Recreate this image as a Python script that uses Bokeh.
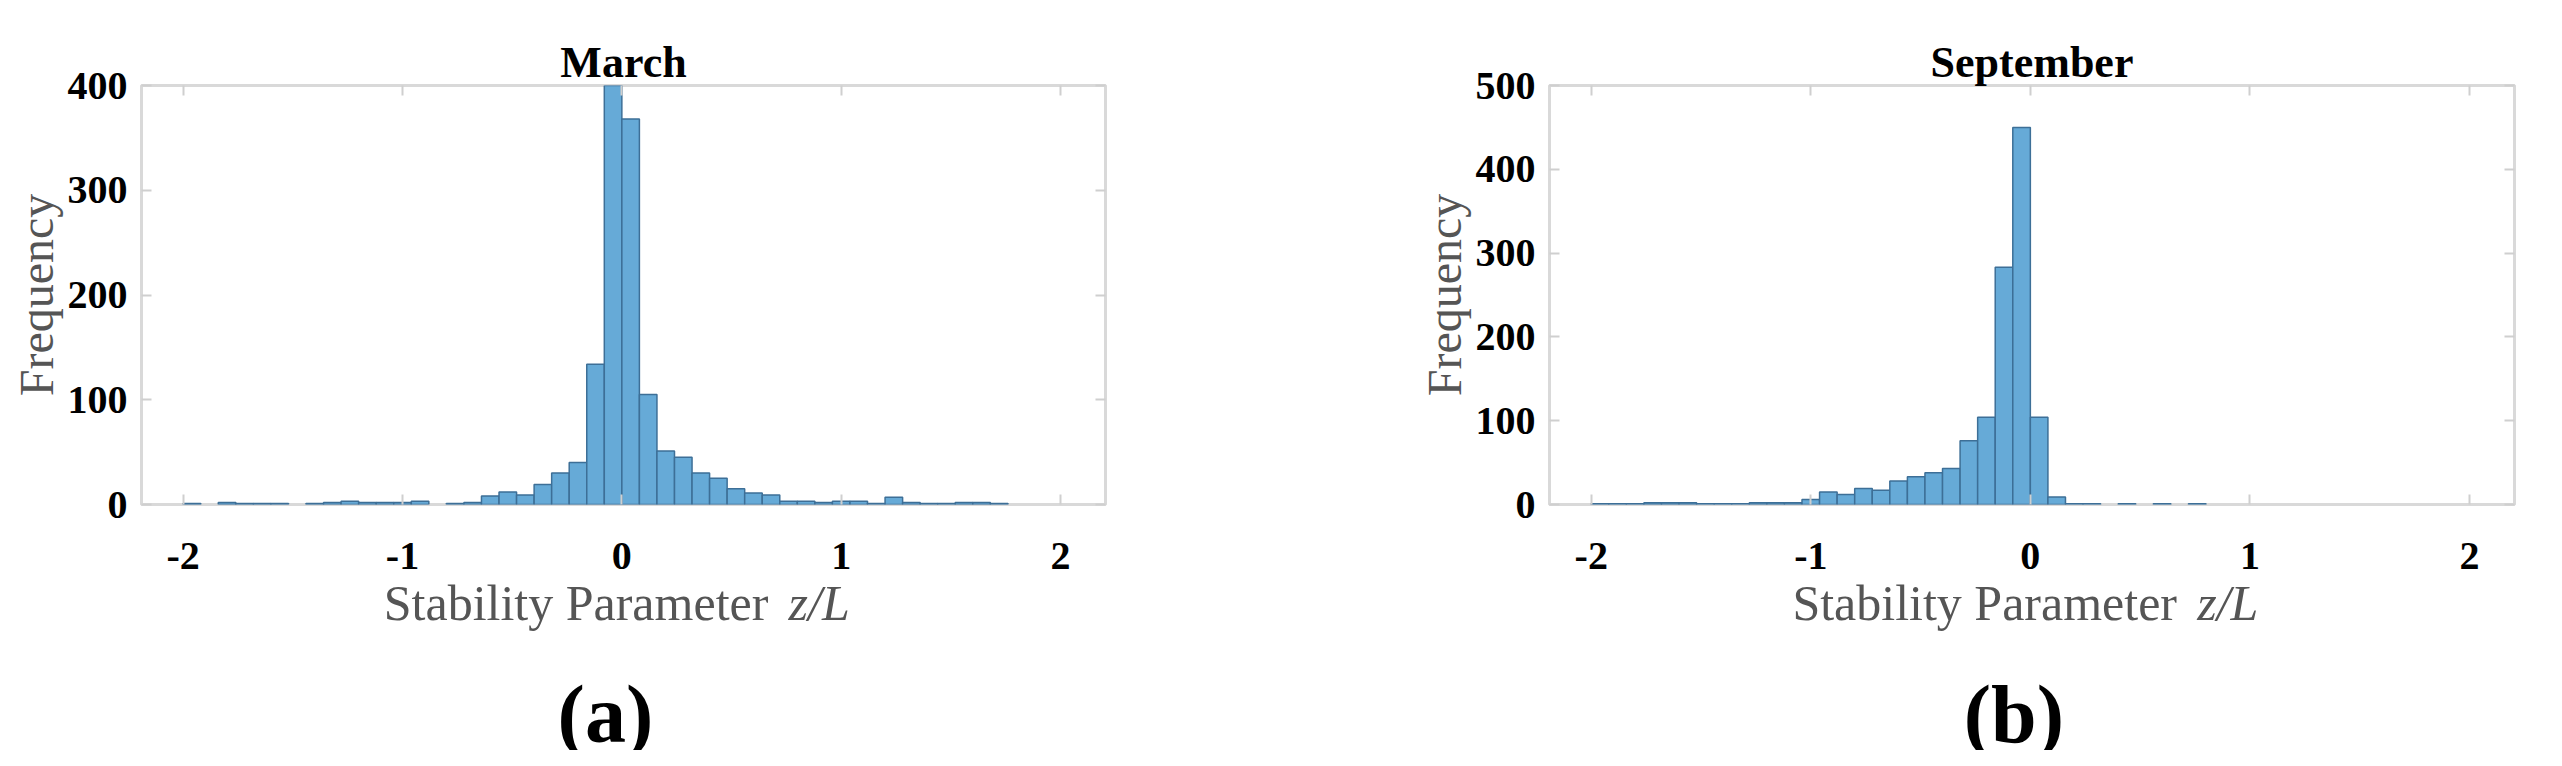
import numpy as np
from bokeh.plotting import figure
from bokeh.models import Range1d, FixedTicker, LinearAxis
from bokeh.layouts import row, column
from bokeh.core.properties import value
from bokeh.embed import file_html
from bokeh.resources import INLINE

# Histogram bins (MATLAB BinEdges): -2 .. 2, width 0.08
BIN_START = -2.0
BIN_WIDTH = 0.08
N_BINS = 50

march_counts = [1, 0, 2, 1, 1, 1, 0, 1, 2, 3,
                2, 2, 2, 3, 0, 1, 2, 8, 12, 9,
                19, 30, 40, 134, 400, 368, 105, 51, 45, 30,
                25, 15, 11, 9, 3, 3, 2, 3, 3, 1,
                7, 2, 1, 1, 2, 2, 1, 0, 0, 0]

september_counts = [1, 1, 1, 2, 2, 2, 1, 1, 1, 2,
                    2, 2, 6, 15, 12, 19, 17, 28, 33, 38,
                    43, 76, 104, 283, 450, 104, 9, 1, 1, 0,
                    1, 0, 1, 0, 1, 0, 0, 0, 0, 0,
                    0, 0, 0, 0, 0, 0, 0, 0, 0, 0]

x_ticks = [-2, -1, 0, 1, 2]
x_tick_labels = ["-2", "-1", "0", "1", "2"]
march_y_ticks = [0, 100, 200, 300, 400]
september_y_ticks = [0, 100, 200, 300, 400, 500]

titles = ["March", "September"]
y_label = "Frequency"
x_label_roman = "Stability Parameter"
x_label_math = "z/L"
panel_tags = ["(a)", "(b)"]

SERIF = "Liberation Serif"
FILL = "#66aad7"
EDGE = "#3d6f97"
BOX = "#d9d9d9"
TICK = "#cfcfcf"
LABEL_GRAY = "#555555"

FRAME_BOTTOM = 512               # page y of the histogram frame bottom
MAIN_BB = 24                     # bottom border of the histogram figure
TOP_H = FRAME_BOTTOM - 8 + MAIN_BB
CAP_Y0 = 8 + TOP_H               # page y where the caption strip starts
CAP_H = 750 - TOP_H


def styled_ticks(ax, ticks):
    ax.ticker = FixedTicker(ticks=ticks)
    ax.axis_line_color = None
    ax.major_tick_in = 10
    ax.major_tick_out = 0
    ax.major_tick_line_color = TICK
    ax.major_tick_line_width = 2
    ax.minor_tick_line_color = None


def hide_labels(ax):
    ax.major_label_text_font_size = "1px"
    ax.major_label_text_color = None
    ax.major_label_standoff = 0


def make_panel(title, counts, y_max, y_ticks, width, b_left, b_right):
    p = figure(width=width, height=TOP_H,
               x_range=Range1d(-2.19, 2.205), y_range=Range1d(0, y_max),
               output_backend="svg", toolbar_location=None,
               min_border_left=b_left, min_border_right=b_right,
               min_border_top=85, min_border_bottom=MAIN_BB)
    p.title.text = title
    p.title.align = "center"
    p.title.text_font = SERIF
    p.title.text_font_style = "bold"
    p.title.text_font_size = "44px"
    p.title.text_color = "black"
    p.title.standoff = -3

    p.xgrid.visible = False
    p.ygrid.visible = False
    p.outline_line_color = BOX
    p.outline_line_width = 3
    p.background_fill_color = "white"
    p.border_fill_color = "white"

    edges = BIN_START + BIN_WIDTH * np.arange(N_BINS + 1)
    c = np.array(counts, dtype=float)
    keep = c > 0
    p.quad(left=edges[:-1][keep], right=edges[1:][keep], bottom=0, top=c[keep],
           fill_color=FILL, line_color=EDGE, line_width=1.5)

    xa = p.xaxis[0]
    ya = p.yaxis[0]
    styled_ticks(xa, x_ticks)
    hide_labels(xa)  # x tick labels are drawn in the caption strip below
    styled_ticks(ya, y_ticks)
    ya.major_label_overrides = {t: str(t) for t in y_ticks}
    ya.major_label_text_font = SERIF
    ya.major_label_text_font_style = "bold"
    ya.major_label_text_font_size = "40px"
    ya.major_label_text_color = "black"
    ya.major_label_standoff = 14

    ya.axis_label = y_label
    ya.axis_label_text_font = SERIF
    ya.axis_label_text_font_style = "normal"
    ya.axis_label_text_font_size = "48px"
    ya.axis_label_text_color = LABEL_GRAY
    ya.axis_label_standoff = 2

    # mirrored tick marks on top and right (no labels drawn)
    top = LinearAxis()
    right = LinearAxis()
    styled_ticks(top, x_ticks)
    styled_ticks(right, y_ticks)
    hide_labels(top)
    hide_labels(right)
    p.add_layout(top, "above")
    p.add_layout(right, "right")
    return p


def make_caption(main, tag, width, b_left, b_right):
    # strip under a histogram sharing its x range; y is page pixels
    c = figure(width=width, height=CAP_H, x_range=main.x_range,
               y_range=Range1d(CAP_Y0 + CAP_H, CAP_Y0), title=None,
               x_axis_type=None, y_axis_type=None,
               output_backend="svg", toolbar_location=None,
               min_border_left=b_left, min_border_right=b_right,
               min_border_top=0, min_border_bottom=0)
    c.outline_line_color = None
    c.background_fill_color = "white"
    c.border_fill_color = "white"
    # x tick labels
    c.text(x=x_ticks, y=[563] * len(x_ticks), text=x_tick_labels,
           text_align="center", text_baseline="alphabetic",
           text_font=value(SERIF), text_font_style="bold",
           text_font_size=value("40px"), text_color="black")
    # x axis label
    c.text(x=[0.668], y=[610], text=[x_label_roman], text_align="right",
           text_baseline="alphabetic", text_font=value(SERIF),
           text_font_size=value("50px"), text_color=LABEL_GRAY)
    c.text(x=[0.76], y=[610], text=[x_label_math], text_align="left",
           text_baseline="alphabetic", text_font=value(SERIF),
           text_font_style="italic",
           text_font_size=value("50px"), text_color=LABEL_GRAY)
    # panel tag
    c.text(x=[-0.075], y=[722], text=[tag], text_align="center",
           text_baseline="alphabetic", text_font=value(SERIF),
           text_font_style="bold",
           text_font_size=value("82px"), text_color="black")
    return c


W1, BL1, BR1 = 1360, 141, 255
W2, BL2, BR2 = 1186, 189, 32

p1 = make_panel(titles[0], march_counts, 400, march_y_ticks, W1, BL1, BR1)
p2 = make_panel(titles[1], september_counts, 500, september_y_ticks, W2, BL2, BR2)
c1 = make_caption(p1, panel_tags[0], W1, BL1, BR1)
c2 = make_caption(p2, panel_tags[1], W2, BL2, BR2)

layout = column(row(p1, p2), row(c1, c2))
open("out.html", "w").write(file_html(layout, INLINE))
